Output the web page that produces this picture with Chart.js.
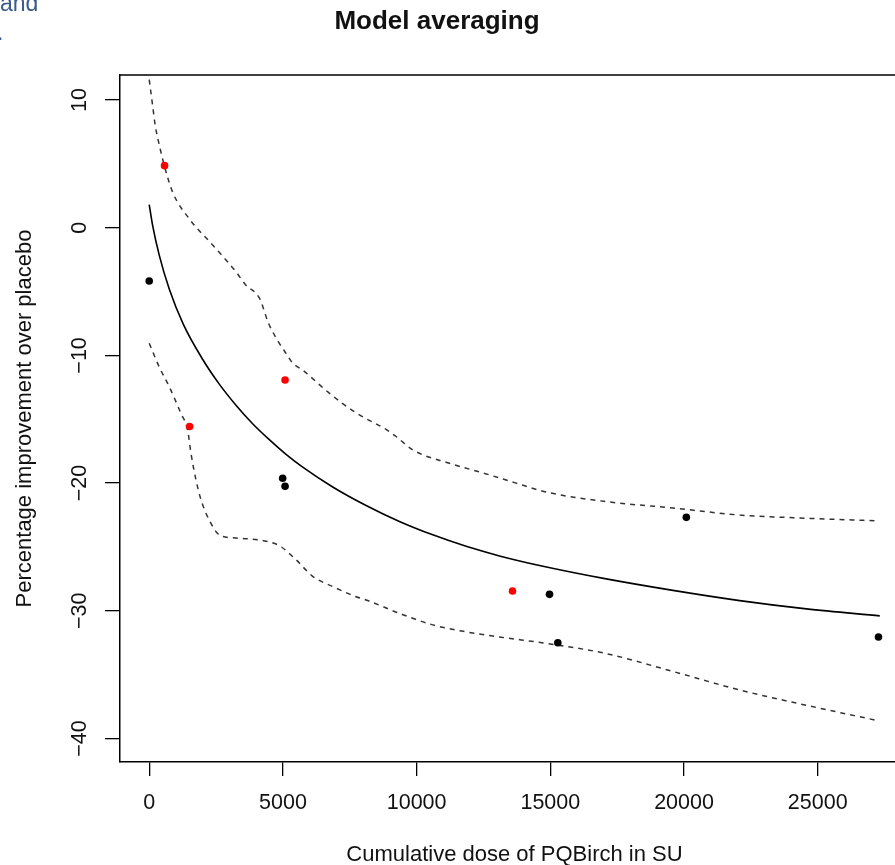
<!DOCTYPE html>
<html><head><meta charset="utf-8">
<script src="https://cdn.jsdelivr.net/npm/chart.js@4.4.1/dist/chart.umd.min.js"></script>
<style>
html,body{margin:0;padding:0;background:#fff;overflow:hidden;}
#wrap{position:relative;width:895px;height:865px;overflow:hidden;background:#fff;}
#c{position:absolute;left:0;top:0;}
.frag{position:absolute;font-family:"Liberation Sans",Arial,sans-serif;font-size:23px;line-height:23px;color:#3b5b8c;white-space:nowrap;}
</style></head><body>
<div id="wrap"><canvas id="c" width="915" height="865"></canvas>
<div class="frag" style="left:0px;top:-8px">and</div>
<div class="frag" style="left:-3px;top:21px">.</div>
</div>
<script>
// ---- chart texts ----
const chartTitle = 'Model averaging';
const xAxisTitle = 'Cumulative dose of PQBirch in SU';
const yAxisTitle = 'Percentage improvement over placebo';

// ---- tick labels ----
const xTickValues = [0, 5000, 10000, 15000, 20000, 25000];
const xTickLabels = ['0', '5000', '10000', '15000', '20000', '25000'];
const yTickValues = [-40, -30, -20, -10, 0, 10];
const yTickLabels = ['\u221240', '\u221230', '\u221220', '\u221210', '0', '10'];

// ---- observed points ----
const redDose = [573, 1510, 5080, 13585];
const redValue = [4.86, -15.57, -11.93, -28.45];
const blackDose = [0, 4990, 5080, 14970, 15280, 20086, 27272];
const blackValue = [-4.17, -19.62, -20.25, -28.71, -32.5, -22.68, -32.05];

// ---- model-averaged fit ----
const fitDose = [0, 125, 374, 749, 1272, 1996, 2620, 3244, 3867, 4491, 5116, 5740, 6861, 8110, 9356, 10603, 11852, 13099, 14596, 17092, 19585, 22081, 24577, 27320];
const fitValue = [1.8, 0.2, -2.15, -4.8, -7.55, -10.3, -12.25, -13.9, -15.35, -16.6, -17.75, -18.75, -20.3, -21.75, -23.0, -24.05, -24.95, -25.7, -26.45, -27.5, -28.4, -29.2, -29.85, -30.4];

// ---- upper confidence band ----
const upperDose = [0, 125, 225, 374, 560, 873, 1497, 2370, 3244, 3617, 4117, 4466, 4865, 5116, 5364, 5740, 6700, 7735, 8858, 9232, 9855, 11228, 12475, 13723, 14846, 17092, 19585, 22081, 24577, 27133];
const upperValue = [11.6, 9.6, 8.0, 6.5, 4.9, 2.8, 0.7, -1.35, -3.45, -4.5, -5.5, -7.5, -9.05, -9.84, -10.6, -11.15, -12.9, -14.5, -15.8, -16.35, -17.4, -18.45, -19.2, -20.0, -20.7, -21.45, -21.95, -22.5, -22.75, -22.95];

// ---- lower confidence band ----
const lowerDose = [0, 374, 749, 1186, 1436, 1560, 1748, 1935, 2246, 2620, 3244, 4240, 4865, 5490, 6113, 6861, 7735, 8110, 9356, 10603, 11852, 13099, 14846, 17092, 19585, 22081, 24577, 27133];
const lowerValue = [-9.05, -10.9, -12.45, -14.55, -15.85, -17.65, -19.75, -21.3, -22.9, -24.05, -24.3, -24.5, -24.9, -26.0, -27.3, -28.1, -28.9, -29.15, -30.2, -31.1, -31.65, -32.05, -32.55, -33.35, -34.75, -36.2, -37.4, -38.55];

const pts = (xs, ys) => xs.map((x, i) => ({x: x, y: ys[i]}));
const FONT = '"Liberation Sans", Arial, Helvetica, sans-serif';

const framePlugin = {
  id: 'frame',
  afterDraw(chart) {
    const ctx = chart.ctx, a = chart.chartArea;
    ctx.save();
    ctx.strokeStyle = '#000';
    ctx.lineWidth = 1.5;
    ctx.beginPath();
    ctx.moveTo(a.left, a.top);
    ctx.lineTo(a.right, a.top);
    ctx.lineTo(a.right, a.bottom);
    ctx.stroke();
    ctx.fillStyle = '#111';
    ctx.font = 'bold 26px ' + FONT;
    ctx.textAlign = 'center';
    ctx.textBaseline = 'alphabetic';
    ctx.fillText(chartTitle, 437, 29);
    ctx.restore();
  }
};

new Chart(document.getElementById('c'), {
  type: 'scatter',
  data: {
    datasets: [
      {label: 'red', data: pts(redDose, redValue), backgroundColor: '#ff0000', borderWidth: 0, pointRadius: 3.8, showLine: false},
      {label: 'black', data: pts(blackDose, blackValue), backgroundColor: '#000000', borderWidth: 0, pointRadius: 3.8, showLine: false},
      {label: 'fit', data: pts(fitDose, fitValue), showLine: true, borderColor: '#000', borderWidth: 1.6, pointRadius: 0, cubicInterpolationMode: 'monotone', fill: false},
      {label: 'upper', data: pts(upperDose, upperValue), showLine: true, borderColor: '#333', borderWidth: 1.5, borderDash: [5, 5], pointRadius: 0, cubicInterpolationMode: 'monotone', fill: false},
      {label: 'lower', data: pts(lowerDose, lowerValue), showLine: true, borderColor: '#333', borderWidth: 1.5, borderDash: [5, 5], pointRadius: 0, cubicInterpolationMode: 'monotone', fill: false}
    ]
  },
  options: {
    responsive: false,
    animation: false,
    devicePixelRatio: 1,
    layout: {padding: {top: 75, right: 6, bottom: 0, left: 0}},
    plugins: {legend: {display: false}, tooltip: {enabled: false}, title: {display: false}},
    scales: {
      x: {
        type: 'linear', min: -1093, max: 28413,
        afterBuildTicks: s => { s.ticks = xTickValues.map(v => ({value: v})); },
        afterFit: s => { s.height = 103; },
        grid: {drawOnChartArea: false, drawTicks: true, tickLength: 14, color: '#000', lineWidth: 1.3},
        border: {display: true, color: '#000', width: 1.5},
        ticks: {autoSkip: false, maxRotation: 0, minRotation: 0, padding: 14, color: '#111', font: {family: FONT, size: 21.5},
          callback: v => { const i = xTickValues.indexOf(v); return i >= 0 ? xTickLabels[i] : ''; }},
        title: {display: true, text: xAxisTitle, color: '#111', font: {family: FONT, size: 22}, padding: {top: 0, bottom: -3.5}}
      },
      y: {
        type: 'linear', min: -41.84, max: 11.96,
        afterBuildTicks: s => { s.ticks = yTickValues.map(v => ({value: v})); },
        afterFit: s => { s.width = 120; },
        grid: {drawOnChartArea: false, drawTicks: true, tickLength: 15, color: '#000', lineWidth: 1.3},
        border: {display: true, color: '#000', width: 1.5},
        ticks: {autoSkip: false, minRotation: 90, maxRotation: 90, crossAlign: 'center', padding: 7, color: '#111', font: {family: FONT, size: 21.5},
          callback: v => { const i = yTickValues.indexOf(v); return i >= 0 ? yTickLabels[i] : ''; }},
        title: {display: true, text: yAxisTitle, color: '#111', font: {family: FONT, size: 22}, padding: {top: 12, bottom: 0}}
      }
    }
  },
  plugins: [framePlugin]
});
</script>
</body></html>
